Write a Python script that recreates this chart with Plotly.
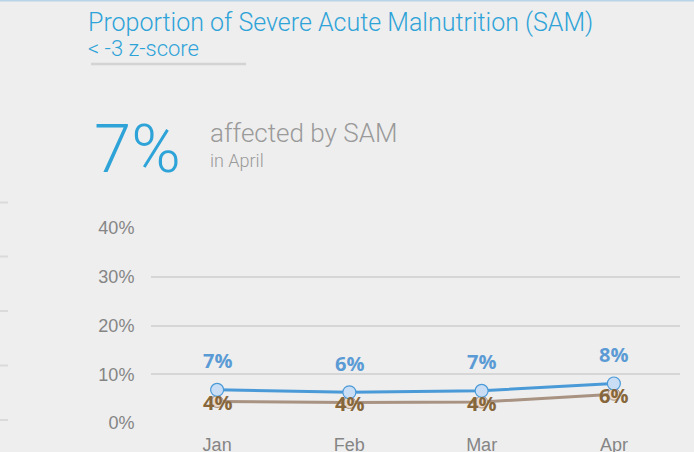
import plotly.graph_objects as go

months = ["Jan", "Feb", "Mar", "Apr"]
sam_values = [6.8, 6.3, 6.6, 8.1]
sam_labels = ["7%", "6%", "7%", "8%"]
other_values = [4.4, 4.2, 4.3, 5.9]
other_labels = ["4%", "4%", "4%", "6%"]
y_ticks = [0, 10, 20, 30, 40]
y_tick_labels = ["0%", "10%", "20%", "30%", "40%"]

W, H = 694, 452
L, R, T, B = 151, 14, 228, 29

def px(x):
    return (x - L) / (W - L - R)

def py(y):
    return (H - B - y) / (H - B - T)

BLUE_T = "#2ea3d8"
fig = go.Figure()

fig.add_trace(go.Scatter(
    x=months, y=other_values, mode="lines+markers",
    line=dict(color="#a89282", width=3),
    marker=dict(size=12, color="#ead9cc", line=dict(color="#a89282", width=1)),
    cliponaxis=False, showlegend=False, hoverinfo="skip"))

fig.add_trace(go.Scatter(
    x=months, y=sam_values, mode="lines+markers",
    line=dict(color="#4a9ad8", width=3),
    marker=dict(size=13, color="#c9def5", line=dict(color="#4a9ad8", width=1.2)),
    cliponaxis=False, showlegend=False, hoverinfo="skip"))

annotations = []
for m, v, t in zip(months, other_values, other_labels):
    annotations.append(dict(text=t, x=m, y=v, xref="x", yref="y", yshift=-1,
                            showarrow=False, xanchor="center", yanchor="middle",
                            font=dict(family="Open Sans", size=20, color="#86663a", weight="bold")))
for m, v, t in zip(months, sam_values, sam_labels):
    annotations.append(dict(text=t, x=m, y=v, xref="x", yref="y", yshift=29,
                            showarrow=False, xanchor="center", yanchor="middle",
                            font=dict(family="Open Sans", size=20, color="#5b9bd5", weight="bold")))

texts = [
    dict(text="Proportion of Severe Acute Malnutrition (SAM)", x=px(86), y=py(22),
         font=dict(family="Roboto", size=25, color=BLUE_T, weight=300)),
    dict(text="&lt; -3 z-score", x=px(86), y=py(48),
         font=dict(family="Roboto", size=22, color=BLUE_T, weight=300)),
    dict(text="7%", x=px(92), y=py(149),
         font=dict(family="Roboto", size=67, color=BLUE_T, weight=300)),
    dict(text="affected by SAM", x=px(208), y=py(133),
         font=dict(family="Roboto", size=26, color="#9a9a9a", weight=300)),
    dict(text="in April", x=px(208), y=py(160),
         font=dict(family="Roboto", size=18, color="#9a9a9a", weight=300)),
]
for a in texts:
    a.update(xref="paper", yref="paper", showarrow=False, xanchor="left", yanchor="middle")
annotations += texts

shapes = [
    dict(type="line", xref="paper", yref="paper", x0=px(91), x1=px(246), y0=py(64), y1=py(64),
         line=dict(color="#d3d3d3", width=2.5)),
    dict(type="line", xref="paper", yref="paper", x0=px(0), x1=px(694), y0=py(0.5), y1=py(0.5),
         line=dict(color="#b8d4e6", width=2)),
]
for yy in [202.5, 256.5, 311, 365.5, 420]:
    shapes.append(dict(type="line", xref="paper", yref="paper", x0=px(0), x1=px(8),
                       y0=py(yy), y1=py(yy), line=dict(color="#dadada", width=2)))

fig.update_layout(
    width=W, height=H,
    margin=dict(l=L, r=R, t=T, b=B, autoexpand=False),
    paper_bgcolor="#eeeeee", plot_bgcolor="#eeeeee",
    annotations=annotations, shapes=shapes,
    xaxis=dict(type="category", range=[-0.5, 3.5], showgrid=False, zeroline=False,
               showline=False, ticks="outside", ticklen=5, tickcolor="rgba(0,0,0,0)",
               automargin=False,
               tickfont=dict(family="Liberation Sans", size=18, color="#858585")),
    yaxis=dict(range=[0, 40], tickvals=y_ticks, ticktext=y_tick_labels,
               showgrid=True, gridcolor="#d6d6d6", gridwidth=2, zeroline=False,
               showline=False, ticks="outside", ticklen=12, tickcolor="rgba(0,0,0,0)",
               automargin=False,
               tickfont=dict(family="Liberation Sans", size=18, color="#858585")),
)

fig.write_html("out.html", config={"displayModeBar": False},
               post_script="document.body.style.margin='0';")
